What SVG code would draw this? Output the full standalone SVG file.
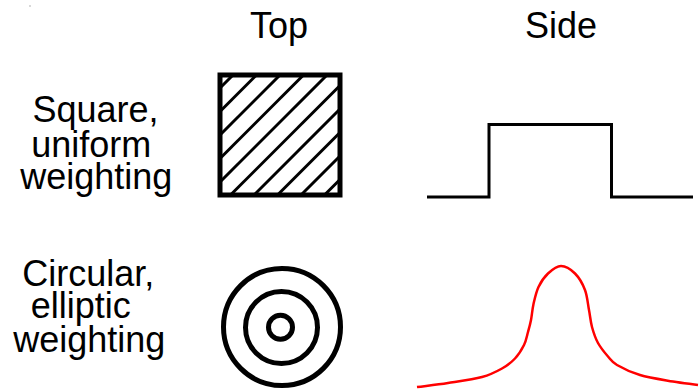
<svg xmlns="http://www.w3.org/2000/svg" width="699" height="390" viewBox="0 0 699 390">
<style>
text{font-family:"Liberation Sans",Arial,sans-serif;font-size:36px;fill:#000}
.m{text-anchor:middle}
.k{fill:none;stroke:#000}
</style>
<rect width="699" height="390" fill="#fff"/>
<rect x="29.5" y="5.5" width="1" height="1" fill="#666"/>
<g id="header">
<text class="m" x="279" y="38">Top</text>
<text class="m" x="561" y="38">Side</text>
</g>
<g id="label-square">
<text class="m" x="95.5" y="122">Square,</text>
<text class="m" x="91.2" y="157">uniform</text>
<text class="m" x="96.3" y="189">weighting</text>
</g>
<g id="label-circular">
<text class="m" x="88.3" y="286">Circular,</text>
<text class="m" x="80.8" y="318">elliptic</text>
<text class="m" x="89.2" y="352">weighting</text>
</g>
<g id="square-top">
<g class="k" stroke-width="3">
<line x1="220" y1="88" x2="233" y2="75"/>
<line x1="220" y1="111.5" x2="256.5" y2="75"/>
<line x1="220" y1="135" x2="280" y2="75"/>
<line x1="220" y1="158.5" x2="303.5" y2="75"/>
<line x1="220" y1="182" x2="327" y2="75"/>
<line x1="230.5" y1="195" x2="340" y2="85.5"/>
<line x1="254" y1="195" x2="340" y2="109"/>
<line x1="277.5" y1="195" x2="340" y2="132.5"/>
<line x1="301" y1="195" x2="340" y2="156"/>
<line x1="324.5" y1="195" x2="340" y2="179.5"/>
</g>
<rect class="k" x="220" y="75" width="120" height="120" stroke-width="5"/>
</g>
<g id="circle-top" class="k" stroke-width="5">
<circle cx="282" cy="327" r="58.5"/>
<circle cx="281.5" cy="327.5" r="36"/>
<circle cx="280.5" cy="327.3" r="12"/>
</g>
<g id="square-side">
<polyline class="k" stroke-width="3" points="427,197 489,197 489,124.5 611.5,124.5 611.5,197 693,197"/>
</g>
<g id="circle-side">
<path fill="none" stroke="#f00" stroke-width="2.5" d="M417,387 C427.3,385.7 437.2,384.7 448,383 C458.8,381.3 473,379.4 482,377 C491,374.6 496.5,371.6 502,368.5 C507.5,365.4 511.3,362.4 515,358.5 C518.7,354.6 521.8,349.4 524,345 C526.2,340.6 526.8,336.2 528,332 C529.2,327.8 530.1,324.7 531,320 C531.9,315.3 532.3,309.5 533.5,304 C534.8,298.5 536.1,292.1 538.5,287 C540.9,281.9 544.3,277 548,273.5 C551.8,270 556.5,266 561,266 C565.5,266 571,269.5 575,273.5 C579,277.5 582.7,283.9 585,290 C587.3,296.1 587.8,303.8 589,310 C590.2,316.2 590.5,321.5 592,327 C593.5,332.5 595.3,338.1 598,343 C600.7,347.9 604.8,352.8 608,356.5 C611.2,360.2 611.7,361.9 617,365 C622.3,368.1 630.7,372.3 640,375 C649.3,377.8 663.3,379.8 673,381.5 C682.7,383.2 689.7,383.8 698,385"/>
</g>
</svg>
